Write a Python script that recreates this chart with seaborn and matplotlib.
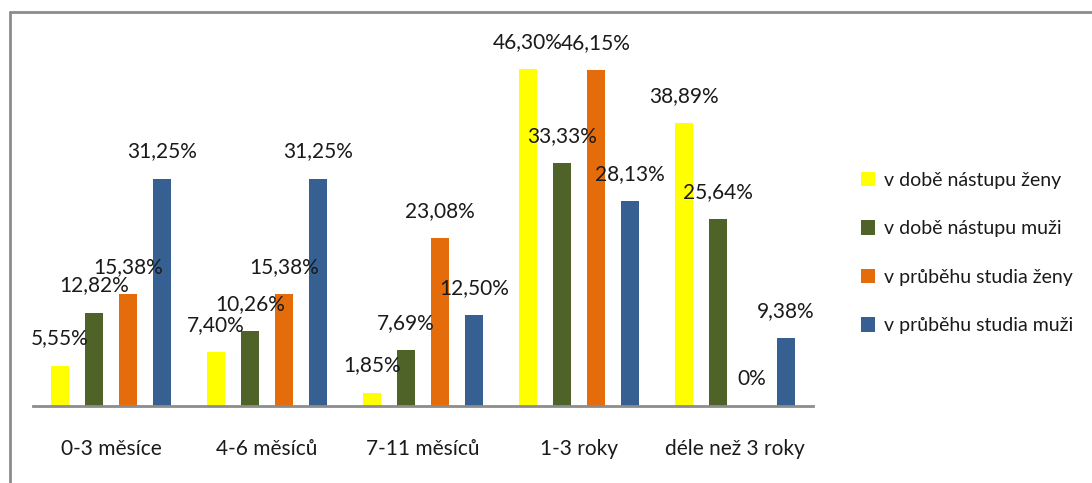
import numpy as np
import pandas as pd
import matplotlib.pyplot as plt
from matplotlib.lines import Line2D
import seaborn as sns

# data (percent)
kategorie = ['0-3 měsíce', '4-6 měsíců', '7-11 měsíců', '1-3 roky', 'déle než 3 roky']
skupiny = ['v době nástupu ženy', 'v době nástupu muži',
           'v průběhu studia ženy', 'v průběhu studia muži']
nastup_zeny = [5.55, 7.40, 1.85, 46.30, 38.89]
nastup_muzi = [12.82, 10.26, 7.69, 33.33, 25.64]
studium_zeny = [15.38, 15.38, 23.08, 46.15, 0]
studium_muzi = [31.25, 31.25, 12.50, 28.13, 9.38]
barvy = ['#FFFF00', '#4F6228', '#E46C0A', '#376092']

rows = []
for sk, vals in zip(skupiny, [nastup_zeny, nastup_muzi, studium_zeny, studium_muzi]):
    for kat, v in zip(kategorie, vals):
        rows.append({'kategorie': kat, 'skupina': sk, 'hodnota': v})
df = pd.DataFrame(rows)

sns.set_style('white')
plt.rcParams['font.family'] = ['Lato', 'DejaVu Sans']

W, H = 1092, 483
fig = plt.figure(figsize=(W / 100, H / 100), dpi=100)
ax = fig.add_axes([33 / W, 77 / H, 780 / W, 364 / H])

sns.barplot(data=df, x='kategorie', y='hodnota', hue='skupina', order=kategorie,
            hue_order=skupiny, palette=barvy, width=0.87, gap=0.47,
            saturation=1, linewidth=0, ax=ax, legend=True)

ax.set_ylim(0, 50)
ax.set_xlim(-0.5, len(kategorie) - 0.5)
for s in ['top', 'left', 'right']:
    ax.spines[s].set_visible(False)
ax.spines['bottom'].set_color('#8c8c8c')
ax.spines['bottom'].set_linewidth(2)
ax.set_yticks([])
ax.set_xlabel('')
ax.set_ylabel('')
ax.tick_params(axis='x', length=0, pad=24, labelsize=15, labelcolor='#1a1a1a')

def fmt(v):
    if v == 0:
        return '0%'
    return f'{v:.2f}'.replace('.', ',') + '%'

for cont in ax.containers:
    for bar in cont:
        h = bar.get_height()
        ax.annotate(fmt(h), (bar.get_x() + bar.get_width() / 2, h),
                    xytext=(0, 19.5), textcoords='offset points',
                    ha='center', va='center', fontsize=15, color='#1a1a1a')

handles, labels = ax.get_legend_handles_labels()
for hd in handles:
    hd.set_linewidth(0)
ax.legend(handles, labels, loc='center left', bbox_to_anchor=(843 / W, 1 - 253 / H),
          bbox_transform=fig.transFigure, frameon=False, fontsize=14,
          handlelength=0.75, handleheight=0.75, handletextpad=0.45,
          labelspacing=1.62, labelcolor='#1a1a1a')

# chart frame (top and left edges visible)
fig.add_artist(Line2D([10 / W, 10 / W], [0, 1 - 12 / H], color='#8c8c8c', lw=2,
                      transform=fig.transFigure))
fig.add_artist(Line2D([10 / W, 1], [1 - 12 / H, 1 - 12 / H], color='#8c8c8c', lw=2,
                      transform=fig.transFigure))

fig.savefig('out.png', dpi=100)
